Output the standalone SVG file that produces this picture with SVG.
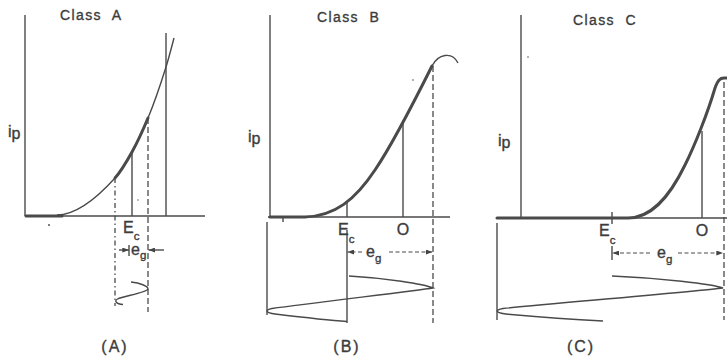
<svg xmlns="http://www.w3.org/2000/svg" width="727" height="358" viewBox="0 0 727 358">
<style>
.ln{stroke:#4a4a4a;stroke-width:1.4;fill:none}
.th{stroke:#4a4a4a;stroke-width:3;fill:none;stroke-linecap:round}
.da{stroke:#4a4a4a;stroke-width:1.3;fill:none;stroke-dasharray:6 3}
.dd{stroke:#4a4a4a;stroke-width:1.3;fill:none;stroke-dasharray:5 3 1.5 3}
.dim{stroke:#4a4a4a;stroke-width:1.1;fill:none;stroke-dasharray:4 2.5}
text{font-family:"Liberation Sans",Arial,sans-serif;fill:#3c3c3c;stroke:#3c3c3c;stroke-width:0.35}
.tt{font-size:14px;letter-spacing:1.4px}
.lb{font-size:16px}
.sb{font-size:11.5px}
.dot{fill:#555}
</style>
<defs>
<marker id="arr" viewBox="0 0 8 6" refX="8" refY="3" markerWidth="7" markerHeight="5" markerUnits="userSpaceOnUse" orient="auto"><path d="M0,0 L8,3 L0,6 z" fill="#444"/></marker>
</defs>

<g id="panelA">
<text class="tt" x="60" y="20" xml:space="preserve">Class  A</text>
<text class="lb" x="8" y="137">i<tspan dy="2">p</tspan></text>
<line class="ln" x1="25" y1="15" x2="25" y2="216"/>
<line class="ln" x1="25" y1="216" x2="205" y2="216"/>
<line class="th" x1="26" y1="216" x2="62" y2="216" stroke-width="2.2"/>
<path class="ln" d="M57,215 C76,215 96,199 115,178 C120.7,171.7 126.3,162.3 132,152 C137.3,142.4 142.7,130.8 148,118 C154,103.6 160,86.2 166,67 C168.7,58.4 171.3,48.3 174,38"/>
<path class="th" d="M115,178 C120.7,171.7 126.3,162.3 132,152 C137.3,142.4 142.7,130.8 148,118"/>
<line class="dd" x1="115" y1="178" x2="115" y2="306"/>
<line class="ln" x1="132" y1="152" x2="132" y2="216"/>
<line class="da" x1="148" y1="118" x2="148" y2="312"/>
<line class="ln" x1="166" y1="33" x2="166" y2="216"/>
<text class="lb" x="123" y="233">E<tspan class="sb" dy="7">c</tspan></text>
<line class="ln" x1="119" y1="250" x2="129" y2="250" marker-end="url(#arr)"/>
<line class="ln" x1="129" y1="245" x2="129" y2="256"/>
<line class="ln" x1="164" y1="250" x2="148.5" y2="250" marker-end="url(#arr)"/>
<text class="lb" x="131" y="255">e<tspan class="sb" dy="4">g</tspan></text>
<path class="ln" d="M131,282 C140,283 148,286 148,289 C146,293 123,296 117.5,299 C114,301 116,304 123,304.5"/>
<text class="lb" x="115" y="352" text-anchor="middle" letter-spacing="2">(A)</text>
<circle class="dot" cx="49" cy="225" r="1"/>
<circle class="dot" cx="138" cy="200" r="0.7"/>
</g>

<g id="panelB">
<text class="tt" x="317" y="22" xml:space="preserve">Class  B</text>
<text class="lb" x="248" y="142">i<tspan dy="2">p</tspan></text>
<line class="ln" x1="270" y1="15" x2="270" y2="217"/>
<line class="ln" x1="268" y1="217" x2="450" y2="217"/>
<line class="ln" x1="283" y1="217" x2="283" y2="222"/>
<path class="th" d="M270,217 L305,217 C335,216 355,200 375,170 C390,148 415,100 432,66"/>
<path class="ln" d="M432,66 C438,54 452,51 458,63"/>
<line class="ln" x1="347" y1="203" x2="347" y2="217"/>
<line class="ln" x1="403" y1="123" x2="403" y2="217"/>
<line class="da" x1="433" y1="66" x2="433" y2="323"/>
<line class="ln" x1="267" y1="222" x2="267" y2="315"/>
<line class="ln" x1="347" y1="230" x2="347" y2="323"/>
<text class="lb" x="338" y="235">E<tspan class="sb" dy="8">c</tspan></text>
<text class="lb" x="403" y="235" text-anchor="middle">O</text>
<line class="dim" x1="362" y1="252" x2="347.5" y2="252" marker-end="url(#arr)"/>
<line class="dim" x1="389" y1="252" x2="432.5" y2="252" marker-end="url(#arr)"/>
<text class="lb" x="366" y="257">e<tspan class="sb" dy="5">g</tspan></text>
<path class="ln" d="M349,276 C385,278 424,284 433,288 C415,291 310,303 272,308.5 C264,310 266,313 275,314 C300,317 325,320 347,321.5"/>
<text class="lb" x="347" y="352" text-anchor="middle" letter-spacing="2">(B)</text>
<circle class="dot" cx="413" cy="80" r="0.8"/>
</g>

<g id="panelC">
<text class="tt" x="573" y="25" xml:space="preserve">Class  C</text>
<text class="lb" x="498" y="146">i<tspan dy="2">p</tspan></text>
<line class="ln" x1="521" y1="15" x2="521" y2="218"/>
<line class="ln" x1="497" y1="218" x2="727" y2="218"/>
<path class="th" d="M497,218 L628,218 C650,218 668,200 685,165 C695,145 708,112 715,88 C718,80 720,78 724,78 L727,78"/>
<line class="ln" x1="612" y1="212" x2="612" y2="224"/>
<line class="ln" x1="702" y1="131" x2="702" y2="218"/>
<line class="da" x1="724" y1="82" x2="724" y2="320"/>
<line class="ln" x1="497" y1="223" x2="497" y2="320"/>
<text class="lb" x="599" y="236">E<tspan class="sb" dy="8">c</tspan></text>
<text class="lb" x="702" y="236" text-anchor="middle">O</text>
<line class="ln" x1="612" y1="246" x2="612" y2="260"/>
<line class="dim" x1="650" y1="253" x2="612.5" y2="253" marker-end="url(#arr)"/>
<line class="dim" x1="678" y1="253" x2="723" y2="253" marker-end="url(#arr)"/>
<text class="lb" x="657" y="258">e<tspan class="sb" dy="5">g</tspan></text>
<path class="ln" d="M612,276 C660,278 712,284 723,288 C700,291 560,303 503,308.5 C494,310 496,313 506,314 C540,317 575,319.5 603,321"/>
<text class="lb" x="581" y="352" text-anchor="middle" letter-spacing="2">(C)</text>
<circle class="dot" cx="528" cy="57" r="0.8"/>
</g>
</svg>
